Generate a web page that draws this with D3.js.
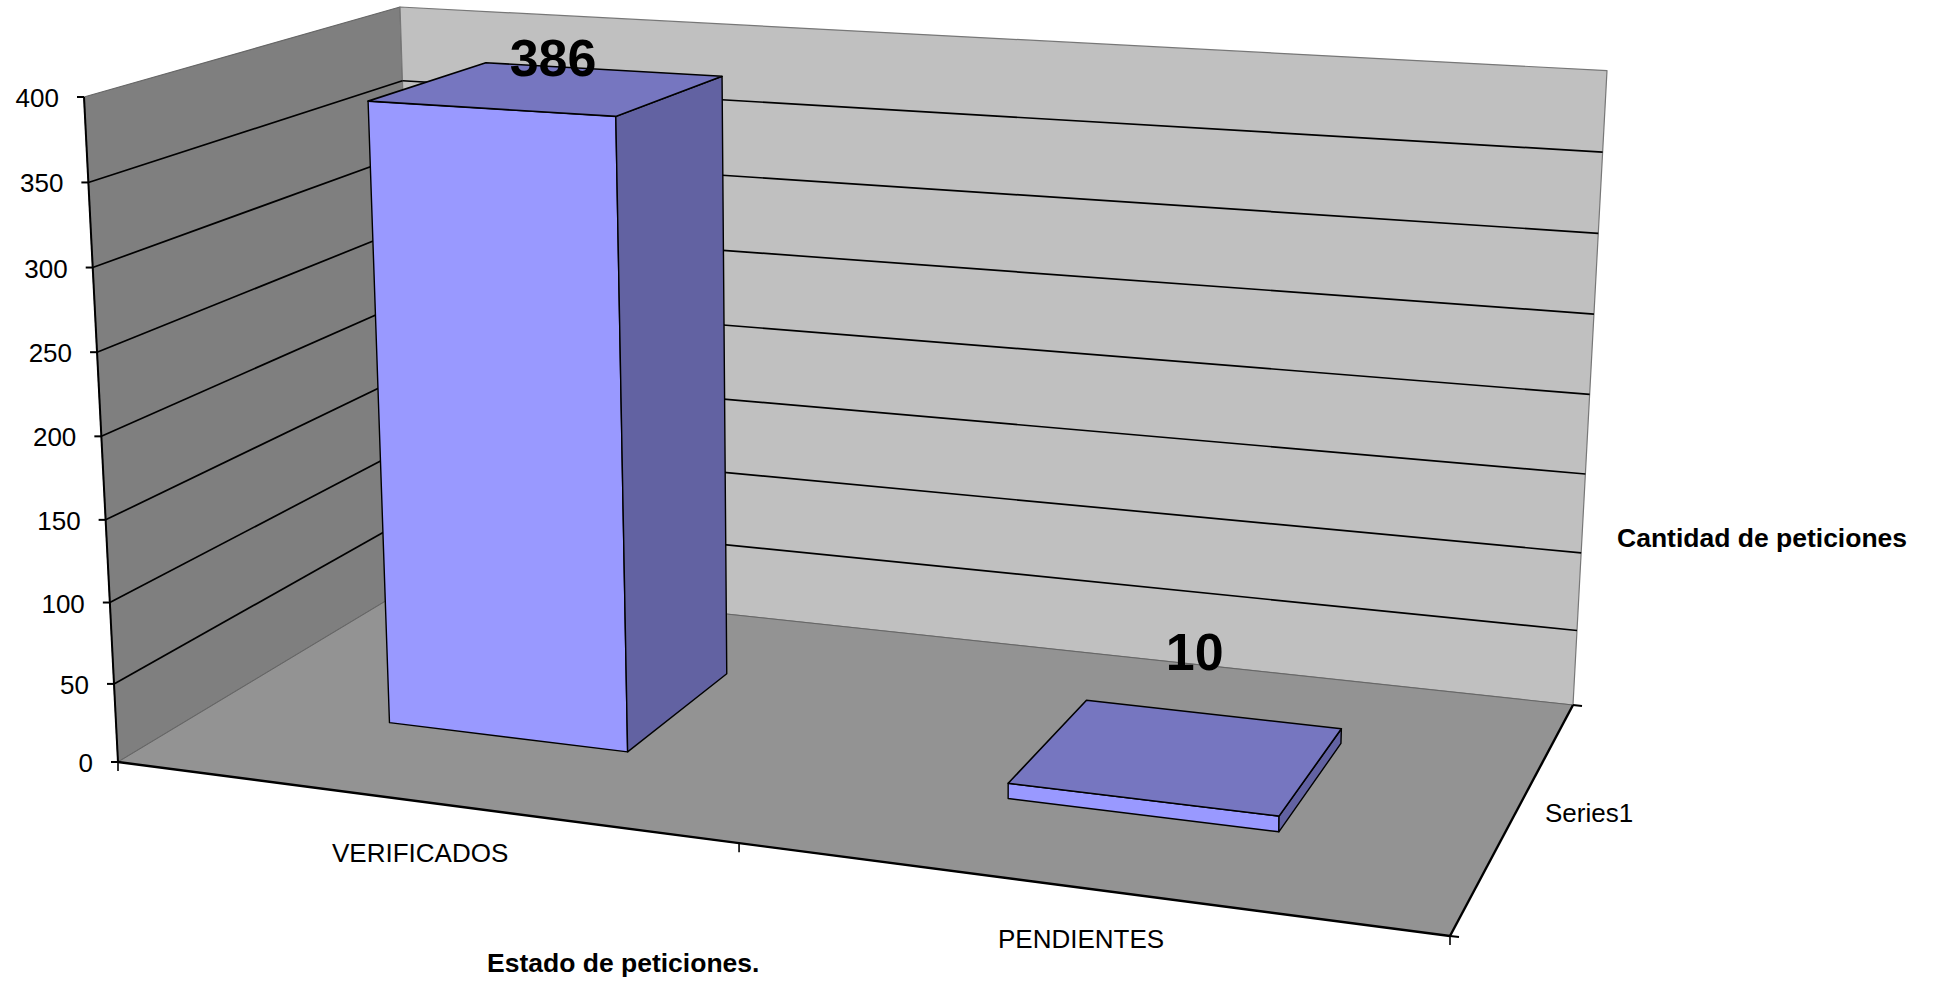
<!DOCTYPE html>
<html>
<head>
<meta charset="utf-8">
<script src="https://cdnjs.cloudflare.com/ajax/libs/d3/7.8.5/d3.min.js"></script>
<style>
html, body { margin: 0; padding: 0; background: #fff; }
svg { display: block; }
text { font-family: "Liberation Sans", Arial, sans-serif; fill: #000; }
</style>
</head>
<body>
<div id="chart"></div>
<script>
// data
const categories = ["VERIFICADOS", "PENDIENTES"];
const values = [386, 10];
const seriesNames = ["Series1"];
const valueTicks = [0, 50, 100, 150, 200, 250, 300, 350, 400];
const yTitle = "Cantidad de peticiones";
const xTitle = "Estado de peticiones.";

// corners of the 3d box on screen: front left, front right, back right, back left
const floorCorners = [[118, 762], [1450, 936], [1573, 705], [419, 581]];
const ceilCorners = [[84, 97], [1455, 183], [1607, 70.6], [400, 7]];

const width = 1935, height = 982;

// maps the unit square onto a quad (perspective)
function quadMap(q) {
    const [[x0, y0], [x1, y1], [x2, y2], [x3, y3]] = q;
    const sx = x0 - x1 + x2 - x3, sy = y0 - y1 + y2 - y3;
    const dx1 = x1 - x2, dx2 = x3 - x2, dy1 = y1 - y2, dy2 = y3 - y2;
    const den = dx1 * dy2 - dx2 * dy1;
    const g = (sx * dy2 - dx2 * sy) / den, h = (dx1 * sy - sx * dy1) / den;
    const a = x1 - x0 + g * x1, b = x3 - x0 + h * x3;
    const d = y1 - y0 + g * y1, e = y3 - y0 + h * y3;
    return (u, w) => {
        const t = g * u + h * w + 1;
        return [(a * u + b * w + x0) / t, (d * u + e * w + y0) / t];
    };
}

const floorMap = quadMap(floorCorners);
const ceilMap = quadMap(ceilCorners);

const vScale = d3.scalePow().exponent(1.03).domain([0, 400]).range([0, 1]);
const uBand = d3.scaleBand().domain(categories).range([0, 1]).paddingInner(0.6).paddingOuter(0.3);
const wBand = d3.scaleBand().domain(seriesNames).range([0, 1]).paddingInner(0).paddingOuter(0.75);

function project(u, w, v) {
    const a = floorMap(u, w), b = ceilMap(u, w), t = vScale(v);
    return [a[0] + (b[0] - a[0]) * t, a[1] + (b[1] - a[1]) * t];
}

const svg = d3.select("#chart").append("svg")
    .attr("width", width)
    .attr("height", height);

const line = d3.line();
function poly(pts, fill, stroke, sw) {
    svg.append("path")
        .attr("d", line(pts) + "Z")
        .attr("fill", fill)
        .attr("stroke", stroke || "none")
        .attr("stroke-width", sw || 0)
        .attr("stroke-linejoin", "round");
}
function seg(a, b, stroke, sw) {
    svg.append("path")
        .attr("d", line([a, b]))
        .attr("fill", "none")
        .attr("stroke", stroke)
        .attr("stroke-width", sw);
}

// walls and floor
poly([project(0, 0, 0), project(0, 1, 0), project(0, 1, 400), project(0, 0, 400)], "#7f7f7f", "#666", 1.2);
poly([project(0, 1, 0), project(1, 1, 0), project(1, 1, 400), project(0, 1, 400)], "#c0c0c0", "#777", 1.2);
poly([project(0, 0, 0), project(1, 0, 0), project(1, 1, 0), project(0, 1, 0)], "#939393", "#666", 1);

// gridlines
valueTicks.slice(1, -1).forEach(v => {
    seg(project(0, 0, v), project(0, 1, v), "#000", 1.7);
    seg(project(0, 1, v), project(1, 1, v), "#000", 1.7);
});

// axes
seg(project(0, 0, 0), project(0, 0, 400), "#000", 2);
seg(project(0, 0, 0), project(1, 0, 0), "#000", 2.4);
seg(project(1, 0, 0), project(1, 1, 0), "#000", 2.4);

valueTicks.forEach(v => {
    const p = project(0, 0, v);
    seg([p[0] - 7, p[1]], p, "#000", 2);
    svg.append("text")
        .attr("x", p[0] - 25)
        .attr("y", p[1] + 10)
        .attr("text-anchor", "end")
        .attr("font-size", 26)
        .text(v);
});

// category ticks sit on the band edges
const catEdges = [0, 0.5, 1];
catEdges.forEach(u => {
    const p = project(u, 0, 0);
    seg(p, [p[0], p[1] + 9], "#000", 1.6);
});
[0, 1].forEach(w => {
    const p = project(1, w, 0);
    seg(p, [p[0] + 9, p[1] + 1], "#000", 2);
});

// bars
const labelNudge = [[8, -13], [20, -86]];
categories.forEach((c, i) => {
    const u0 = uBand(c), u1 = u0 + uBand.bandwidth();
    const w0 = wBand(seriesNames[0]), w1 = w0 + wBand.bandwidth();
    const v = values[i];
    poly([project(u0, w0, 0), project(u1, w0, 0), project(u1, w0, v), project(u0, w0, v)], "#9999ff", "#000", 1.4);
    poly([project(u1, w0, 0), project(u1, w1, 0), project(u1, w1, v), project(u1, w0, v)], "#6262a2", "#000", 1.4);
    poly([project(u0, w0, v), project(u1, w0, v), project(u1, w1, v), project(u0, w1, v)], "#7676c0", "#000", 1.6);

    const a = project(u0, w0, v), b = project(u1, w1, v);
    svg.append("text")
        .attr("x", (a[0] + b[0]) / 2 + labelNudge[i][0])
        .attr("y", (a[1] + b[1]) / 2 + labelNudge[i][1])
        .attr("text-anchor", "middle")
        .attr("font-size", 52)
        .attr("font-weight", "bold")
        .text(v);
});

// axis labels
const catLabelPos = [[332, 862], [998, 948]];
categories.forEach((c, i) => {
    svg.append("text")
        .attr("x", catLabelPos[i][0])
        .attr("y", catLabelPos[i][1])
        .attr("font-size", 26)
        .text(c);
});
svg.append("text").attr("x", 1545).attr("y", 822).attr("font-size", 26).text(seriesNames[0]);
svg.append("text").attr("x", 1617).attr("y", 547).attr("font-size", 26.5).attr("font-weight", "bold").text(yTitle);
svg.append("text").attr("x", 487).attr("y", 972).attr("font-size", 26.5).attr("font-weight", "bold").text(xTitle);
</script>
</body>
</html>
